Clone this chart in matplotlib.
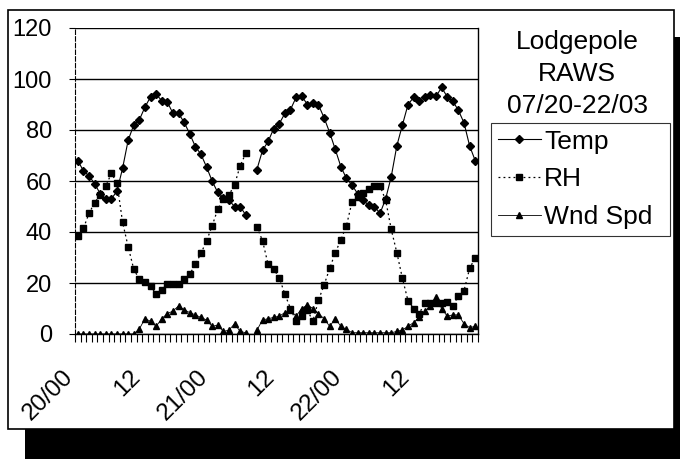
import numpy as np
import matplotlib
matplotlib.use("Agg")
import matplotlib.pyplot as plt
from matplotlib.patches import Rectangle
from matplotlib.transforms import blended_transform_factory

plt.rcParams['font.family'] = ['Liberation Sans', 'DejaVu Sans']

nan = np.nan

# Hourly observations, 20/00 through 22/23 (hour 21/07 missing)
temp = [68, 64, 62, 59, 55, 53, 53, 56, 65, 76, 82, 84,
        89, 93, 94, 91.5, 91, 86.5, 86.5, 83, 78.5, 73.5, 70.5, 65.5,
        60, 55.5, 53.5, 52.5, 50, 50, 46.7, nan, 64.5, 72, 75.5, 80.5,
        82.5, 86.5, 88, 92.8, 93.4, 90, 90.7, 89.8, 84.8, 79, 72.4, 65.6,
        61, 58.4, 55, 52.5, 50.4, 50, 47.3, 53, 61.7, 73.8, 82, 90,
        92.8, 91.4, 93, 93.7, 93.2, 96.7, 93, 91.3, 87.7, 82.8, 73.8, 68]

rh = [38.4, 41.4, 47.3, 51.5, 54.5, 58, 63, 59.3, 43.8, 34.2, 25.4, 21.4,
      20.5, 18.9, 15.5, 17.4, 19.5, 19.6, 19.6, 21.6, 23.5, 27.3, 31.6, 36.5,
      42.4, 48.9, 53, 54.5, 58.5, 65.9, 70.8, nan, 42, 36.6, 27.3, 25.4,
      22, 15.6, 10, 5, 7, 9.5, 5, 13.3, 19.2, 25.7, 31.9, 36.9,
      42.5, 51.9, 53.9, 55.1, 57, 58, 58, 52.5, 41, 31.9, 21.8, 13,
      10, 8, 12.3, 12.3, 12, 12.3, 12.7, 11, 15, 17, 25.7, 30]

wind = [0, 0, 0, 0, 0, 0, 0, 0, 0, 0, 0, 2,
        6, 5, 3, 6, 8, 9, 11, 9.5, 8.4, 7.5, 6.5, 5.5,
        3, 3.5, 1, 1.5, 4, 1, 0.5, nan, 1.5, 5.5, 6, 6.5,
        7, 8.4, 9.4, 7, 10, 11.4, 10, 8, 6, 3, 6, 3,
        1.8, 0.5, 0.5, 0.5, 0.5, 0.5, 0.5, 0.5, 0.5, 1, 1.6, 3,
        4.5, 6.5, 9, 11, 14.5, 10, 7, 7.5, 7.5, 4, 2.5, 3]

tick_positions = [0, 12, 24, 36, 48, 60]
tick_labels = ["20/00", "12", "21/00", "12", "22/00", "12"]
y_ticks = [0, 20, 40, 60, 80, 100, 120]

title_lines = ["Lodgepole", "RAWS", "07/20-22/03"]
series_names = ["Temp", "RH", "Wnd Spd"]

W, H = 680, 459
fig = plt.figure(figsize=(W / 100, H / 100), dpi=100)
fig.patch.set_facecolor("white")


def fx(px):
    return px / W


def fy(py):
    return 1 - py / H


# shadow behind the chart panel, then the panel itself
fig.patches.append(Rectangle((fx(25), fy(470)), fx(700) - fx(25), fy(37) - fy(470),
                             transform=fig.transFigure, facecolor="black",
                             edgecolor="none", zorder=0))
fig.patches.append(Rectangle((fx(8), fy(429)), fx(674) - fx(8), fy(10) - fy(429),
                             transform=fig.transFigure, facecolor="white",
                             edgecolor="black", lw=1.2, zorder=1))

ax = fig.add_axes([fx(75), fy(334), fx(478) - fx(75), fy(28) - fy(334)])
ax.set_facecolor("none")
ax.set_zorder(2)

x = np.arange(len(temp))
l_temp, = ax.plot(x, temp, color="black", lw=0.8, marker="D", ms=3.8,
                  label=series_names[0], zorder=4)
l_rh, = ax.plot(x, rh, color="black", lw=0.9, ls=(0, (1.5, 2.5)), marker="s",
                ms=4.2, label=series_names[1], zorder=4)
l_wind, = ax.plot(x, wind, color="black", lw=0.6, marker="^", ms=4,
                  label=series_names[2], zorder=4)

ax.set_xlim(-0.5, len(temp) - 0.5)
ax.set_ylim(0, 120)

ax.set_yticks(y_ticks)
ax.set_yticklabels([str(v) for v in y_ticks], fontsize=17)
ax.tick_params(axis="y", length=4, width=0.8, pad=12.5, direction="out")
ax.yaxis.grid(True, color="black", lw=1.0)
ax.set_axisbelow(True)

ax.set_xticks([])
ax.set_xticks(np.arange(-0.5, len(temp), 1), minor=True)
ax.tick_params(axis="x", which="minor", length=5.5, width=0.8, direction="out")

trans = blended_transform_factory(ax.transData, ax.transAxes)
for pos, lab in zip(tick_positions, tick_labels):
    ax.text(pos - 1.4, -0.13, lab, transform=trans, rotation=45,
            rotation_mode="anchor", ha="right", va="center", fontsize=17.5)

ax.spines["top"].set_visible(False)
ax.spines["left"].set_linestyle((0, (4, 2)))
ax.spines["left"].set_linewidth(0.8)
ax.spines["right"].set_linewidth(1.0)
ax.spines["bottom"].set_linewidth(1.0)

# chart title stacked above the legend
for text, base in zip(title_lines, [49, 81, 113]):
    fig.text(fx(577), fy(base), text, ha="center", va="baseline", fontsize=19)

leg = fig.legend(handles=[l_temp, l_rh, l_wind], loc="upper left",
                 bbox_to_anchor=(fx(491), fy(234), fx(670) - fx(491), fy(123) - fy(234)),
                 mode="expand", fontsize=19,
                 frameon=True, fancybox=False, edgecolor="black",
                 handlelength=1.65, handletextpad=0.12, borderpad=0.25,
                 labelspacing=0.52, borderaxespad=0)
leg.get_frame().set_linewidth(0.8)
leg.set_zorder(3)

fig.savefig("out.png", dpi=100)
